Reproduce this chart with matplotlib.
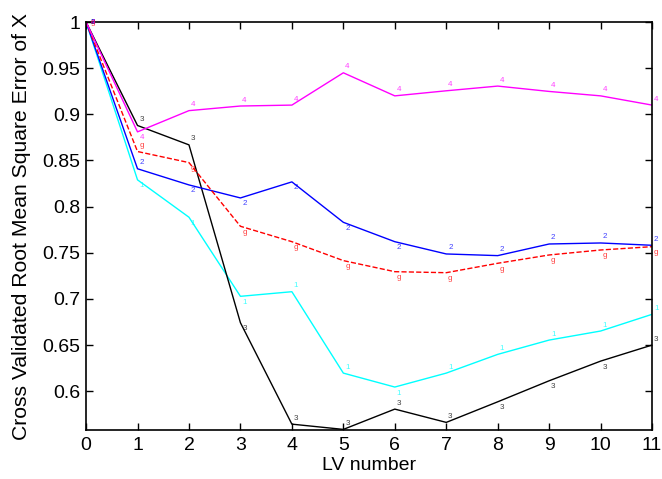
import matplotlib
matplotlib.use("Agg")
import matplotlib.pyplot as plt
from matplotlib.ticker import FuncFormatter, MultipleLocator

lv = [0, 1, 2, 3, 4, 5, 6, 7, 8, 9, 10, 11]
s4 = [1.0, 0.881, 0.904, 0.909, 0.910, 0.945, 0.920, 0.9255, 0.9306, 0.9248, 0.920, 0.910]
s2 = [1.0, 0.841, 0.8235, 0.8094, 0.8268, 0.783, 0.762, 0.7487, 0.7469, 0.7595, 0.7606, 0.7581]
sg = [1.0, 0.8597, 0.8477, 0.7787, 0.762, 0.7415, 0.7295, 0.7284, 0.7386, 0.7476, 0.753, 0.7566]
s1 = [1.0, 0.829, 0.7885, 0.7028, 0.7078, 0.6196, 0.6045, 0.6196, 0.6399, 0.6554, 0.6652, 0.6833]
s3 = [1.0, 0.8879, 0.8669, 0.6742, 0.5643, 0.5586, 0.5806, 0.5662, 0.5885, 0.6113, 0.6326, 0.650]

series = [
    ("1", s1, "#00ffff", "-"),
    ("3", s3, "#000000", "-"),
    ("2", s2, "#0000ff", "-"),
    ("g", sg, "#ff0000", "--"),
    ("4", s4, "#ff00ff", "-"),
]
# style: label side (+1 above, -1 below) for each point
label_side = {
    "1": [0, -1, -1, -1, 1, 1, -1, 1, 1, 1, 1, 1],
    "3": [0, 1, 1, -1, 1, 1, 1, 1, -1, -1, -1, 1],
    "2": [0, 1, -1, -1, -1, -1, -1, 1, 1, 1, 1, 1],
    "g": [0, 1, -1, -1, -1, -1, -1, -1, -1, -1, -1, -1],
    "4": [0, -1, 1, 1, 1, 1, 1, 1, 1, 1, 1, 1],
}
OFF = 0.0065

plt.rcParams['font.family'] = ['Liberation Sans', 'DejaVu Sans']
fig = plt.figure(figsize=(6.62, 4.79), dpi=100)
ax = fig.add_axes([0.130, 0.102, 0.855, 0.852])

for lab, ys, col, ls in series:
    ax.plot(lv, ys, color=col, linestyle=ls, linewidth=1.0)
    for i, (x, y) in enumerate(zip(lv, ys)):
        dy = label_side[lab][i] * OFF
        dx = 0.13 if i == 0 else 0.08
        ax.text(x + dx, y + dy, lab, color=col, fontsize=5.8,
                ha='center', va='center', alpha=0.75)

ax.set_xlim(0, 11)
ax.set_ylim(0.5578, 1.0)
ax.xaxis.set_major_locator(MultipleLocator(1))
ax.yaxis.set_major_locator(MultipleLocator(0.05))
ax.yaxis.set_major_formatter(FuncFormatter(lambda v, p: "%g" % round(v, 2)))
ax.tick_params(direction='in', top=True, right=True, length=5, width=1, labelsize=14)
ax.tick_params(axis='x', pad=5)
ax.tick_params(axis='y', pad=4)
for sp in ax.spines.values():
    sp.set_linewidth(1.2)
ax.set_xlabel("LV number", fontsize=14, labelpad=2)
ax.set_ylabel("Cross Validated Root Mean Square Error of X", fontsize=15.2, labelpad=8)

fig.savefig("out.png", dpi=100)
